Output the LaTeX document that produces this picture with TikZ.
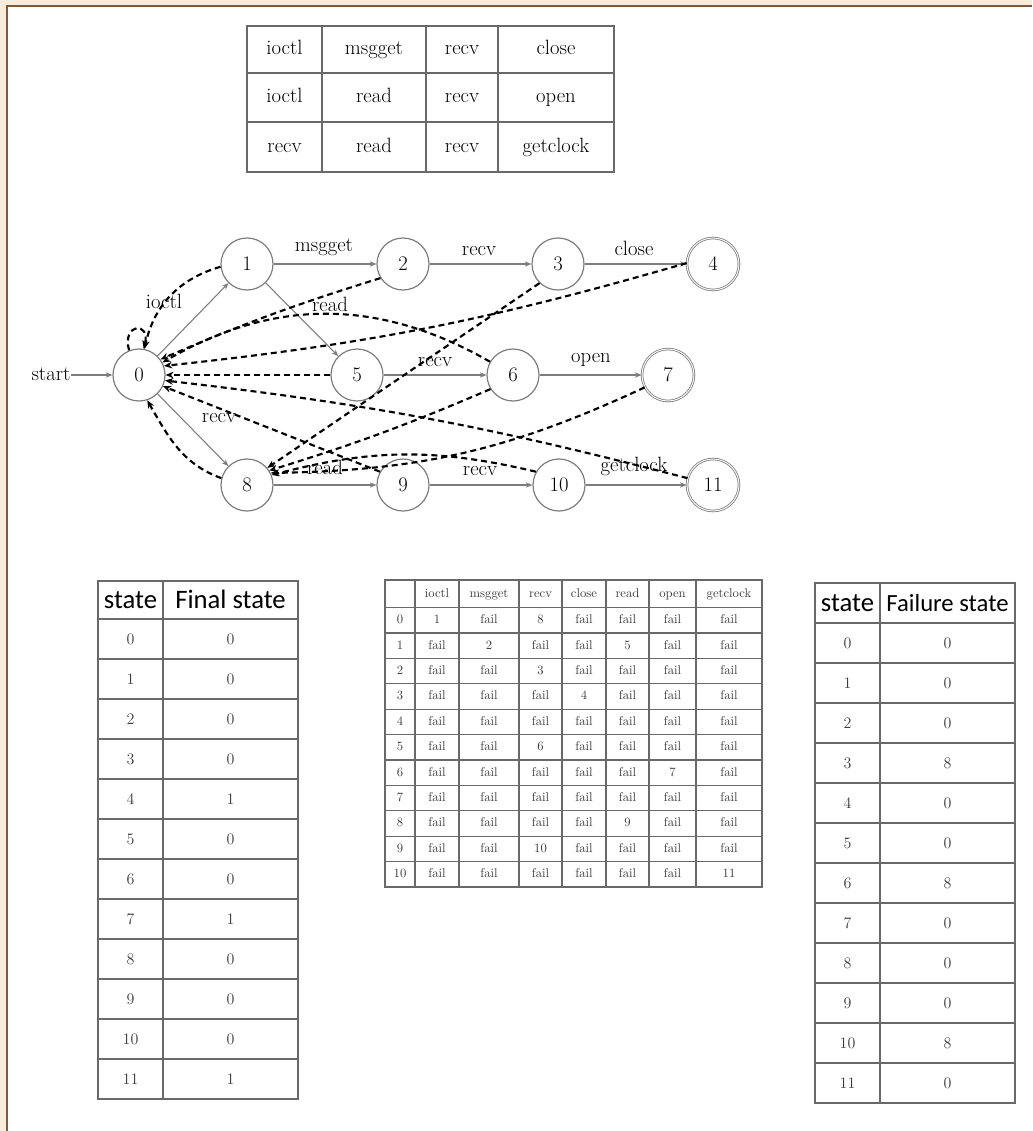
\documentclass[tikz,border=0pt]{standalone}
\usepackage{fontspec}
\newfontfamily\hdfont{Carlito}
\usetikzlibrary{arrows.meta}
\definecolor{framebrown}{RGB}{125,90,60}
\definecolor{frametan}{RGB}{250,236,218}
\definecolor{gridgray}{RGB}{105,105,105}
\definecolor{edgegray}{RGB}{125,125,125}
\definecolor{txtgray}{RGB}{60,60,60}
\begin{document}
\begin{tikzpicture}[x=0.75pt,y=-0.75pt,
  stnode/.style={circle,draw=edgegray,line width=0.9pt,minimum size=39pt,inner sep=0pt,font=\fontsize{15.5}{18}\selectfont},
  accnode/.style={stnode,double,double distance=0.7pt,line width=0.6pt},
  trans/.style={draw=edgegray,line width=0.8pt,-{Stealth[length=5pt,width=4pt]}},
  fail/.style={draw=black,line width=1.6pt,dash pattern=on 4.5pt off 3pt,-{Stealth[length=6pt,width=5pt]}},
  lbl/.style={font=\fontsize{15.5}{18}\selectfont,inner sep=0pt,text height=10.5pt,text depth=2.5pt},
  tgrid/.style={draw=gridgray,line width=0.8pt},
  mcell/.style={font=\fontsize{9.5}{11}\selectfont,text=txtgray,inner sep=0pt,text height=6.5pt,text depth=1.5pt},
  bcell/.style={font=\fontsize{12}{14}\selectfont,text=txtgray,inner sep=0pt},
  hcell/.style={font=\hdfont\fontsize{20}{22}\selectfont,inner sep=0pt,text height=13pt,text depth=1pt},
  tcell/.style={font=\fontsize{15.5}{18}\selectfont,inner sep=0pt,text height=10.5pt,text depth=2.5pt}
]
\useasboundingbox (0,0) rectangle (1032,1131);
\fill[white] (0,0) rectangle (1032,1131);

% page frame
\fill[frametan] (0,0) rectangle (1032,5);
\fill[frametan] (0,0) rectangle (6,1131);
\draw[framebrown,line width=1.4pt] (7,1131) -- (7,6) -- (1032,6);

% ---------- keyword table ----------
\draw[tgrid] (247,26) rectangle (614,172);
\foreach \x in {322,426,498} \draw[tgrid] (\x,26) -- (\x,172);
\foreach \y in {73,122} \draw[tgrid] (247,\y) -- (614,\y);
\foreach \r/\y/\a/\b/\c/\d in {1/49.5/ioctl/msgget/recv/close,
                                2/97.5/ioctl/read/recv/open,
                                3/147/recv/read/recv/getclock}{
  \node[tcell] (kw-\r-1) at (284.5,\y) {\a};
  \node[tcell] (kw-\r-2) at (374,\y) {\b};
  \node[tcell] (kw-\r-3) at (462,\y) {\c};
  \node[tcell] (kw-\r-4) at (556,\y) {\d};
}

% ---------- automaton ----------
\node[stnode] (n0) at (139,375) {0};
\node[stnode] (n1) at (247,264) {1};
\node[stnode] (n2) at (403,264) {2};
\node[stnode] (n3) at (558,264) {3};
\node[accnode] (n4) at (713,264) {4};
\node[stnode] (n5) at (357,375) {5};
\node[stnode] (n6) at (513,375) {6};
\node[accnode] (n7) at (668,375) {7};
\node[stnode] (n8) at (247,485) {8};
\node[stnode] (n9) at (403,485) {9};
\node[stnode] (n10) at (559,485) {10};
\node[accnode] (n11) at (713,485) {11};
\node[lbl] (start) at (51,375) {start};

% goto transitions
\draw[trans] (start) -- (n0);
\draw[trans] (n0) -- (n1);
\draw[trans] (n1) -- (n2);
\draw[trans] (n2) -- (n3);
\draw[trans] (n3) -- (n4);
\draw[trans] (n1) -- (n5);
\draw[trans] (n5) -- (n6);
\draw[trans] (n6) -- (n7);
\draw[trans] (n0) -- (n8);
\draw[trans] (n8) -- (n9);
\draw[trans] (n9) -- (n10);
\draw[trans] (n10) -- (n11);

% failure transitions
\draw[fail] (n0.112) to[out=105,in=75,looseness=5] (n0.80);
\draw[fail] (n1.186) to[out=196,in=78] (n0.78);
\draw[fail] (n2.212) to[bend right=3] (n0.36);
\draw[fail] (n4.178) to[bend left=5] (n0.20);
\draw[fail] (n6.150) to[bend right=30] (n0.28);
\draw[fail] (n5.180) -- (n0.0);
\draw[fail] (n11.165) to[bend right=4] (n0.-12);
\draw[fail] (n9.150) -- (n0.-25);
\draw[fail] (n8.165) to[out=160,in=-60] (n0.-72);
\draw[fail] (n3.226) -- (n8.40);
\draw[fail] (n6.212) to[bend left=3] (n8.33);
\draw[fail] (n7.208) to[bend left=12] (n8.27);
\draw[fail] (n10.150) to[bend right=14] (n8.22);

% transition labels
\node[lbl] (l-ioctl) at (164,303) {ioctl};
\node[lbl] (l-msgget) at (324,246) {msgget};
\node[lbl] (l-recv23) at (479,250) {recv};
\node[lbl] (l-close) at (634,250) {close};
\node[lbl] (l-read15) at (330,306) {read};
\node[lbl] (l-recv56) at (435,361) {recv};
\node[lbl] (l-open) at (591,357) {open};
\node[lbl] (l-recv08) at (219,417) {recv};
\node[lbl] (l-read89) at (325,469) {read};
\node[lbl] (l-recv910) at (480,470) {recv};
\node[lbl] (l-getclock) at (634,466) {getclock};

% ---------- goto table ----------
\draw[tgrid] (385,580) rectangle (762,887);
\foreach \x in {415,459,519,562,606,649,696} \draw[tgrid] (\x,580) -- (\x,887);
\foreach \k in {0,...,10} \draw[tgrid] (385,{607.6+25.4*\k}) -- (762,{607.6+25.4*\k});
\node[mcell] (g-h-1) at (437,594) {ioctl};
\node[mcell] (g-h-2) at (489,594) {msgget};
\node[mcell] (g-h-3) at (540.5,594) {recv};
\node[mcell] (g-h-4) at (584,594) {close};
\node[mcell] (g-h-5) at (627.5,594) {read};
\node[mcell] (g-h-6) at (672.5,594) {open};
\node[mcell] (g-h-7) at (729,594) {getclock};
\foreach \i/\a/\b/\c/\d/\e/\f/\g in {
  0/1/fail/8/fail/fail/fail/fail,
  1/fail/2/fail/fail/5/fail/fail,
  2/fail/fail/3/fail/fail/fail/fail,
  3/fail/fail/fail/4/fail/fail/fail,
  4/fail/fail/fail/fail/fail/fail/fail,
  5/fail/fail/6/fail/fail/fail/fail,
  6/fail/fail/fail/fail/fail/7/fail,
  7/fail/fail/fail/fail/fail/fail/fail,
  8/fail/fail/fail/fail/9/fail/fail,
  9/fail/fail/10/fail/fail/fail/fail,
  10/fail/fail/fail/fail/fail/fail/11}{
  \node[mcell] (g-\i-0) at (400,{620.3+25.4*\i}) {\i};
  \node[mcell] (g-\i-1) at (437,{620.3+25.4*\i}) {\a};
  \node[mcell] (g-\i-2) at (489,{620.3+25.4*\i}) {\b};
  \node[mcell] (g-\i-3) at (540.5,{620.3+25.4*\i}) {\c};
  \node[mcell] (g-\i-4) at (584,{620.3+25.4*\i}) {\d};
  \node[mcell] (g-\i-5) at (627.5,{620.3+25.4*\i}) {\e};
  \node[mcell] (g-\i-6) at (672.5,{620.3+25.4*\i}) {\f};
  \node[mcell] (g-\i-7) at (729,{620.3+25.4*\i}) {\g};
}

% ---------- final-state table ----------
\draw[tgrid,line width=1pt] (98,581) rectangle (298,1099);
\draw[tgrid,line width=1pt] (163,581) -- (163,1099);
\foreach \k in {0,...,11} \draw[tgrid,line width=1pt] (98,{619+40*\k}) -- (298,{619+40*\k});
\node[hcell] (fs-h-1) at (130.5,600) {state};
\node[hcell] (fs-h-2) at (230.5,600) {Final state};
\foreach \i/\v in {0/0,1/0,2/0,3/0,4/1,5/0,6/0,7/1,8/0,9/0,10/0,11/1}{
  \node[bcell] (fs-\i-1) at (130.5,{639+40*\i}) {\i};
  \node[bcell] (fs-\i-2) at (230.5,{639+40*\i}) {\v};
}

% ---------- failure-state table ----------
\draw[tgrid,line width=1pt] (815,583) rectangle (1015,1103);
\draw[tgrid,line width=1pt] (880,583) -- (880,1103);
\foreach \k in {0,...,11} \draw[tgrid,line width=1pt] (815,{623+40*\k}) -- (1015,{623+40*\k});
\node[hcell] (ff-h-1) at (847.5,603) {state};
\node[hcell,font=\hdfont\fontsize{18.5}{22}\selectfont] (ff-h-2) at (947.5,603) {Failure state};
\foreach \i/\v in {0/0,1/0,2/0,3/8,4/0,5/0,6/8,7/0,8/0,9/0,10/8,11/0}{
  \node[bcell] (ff-\i-1) at (847.5,{643+40*\i}) {\i};
  \node[bcell] (ff-\i-2) at (947.5,{643+40*\i}) {\v};
}
\end{tikzpicture}
\end{document}
